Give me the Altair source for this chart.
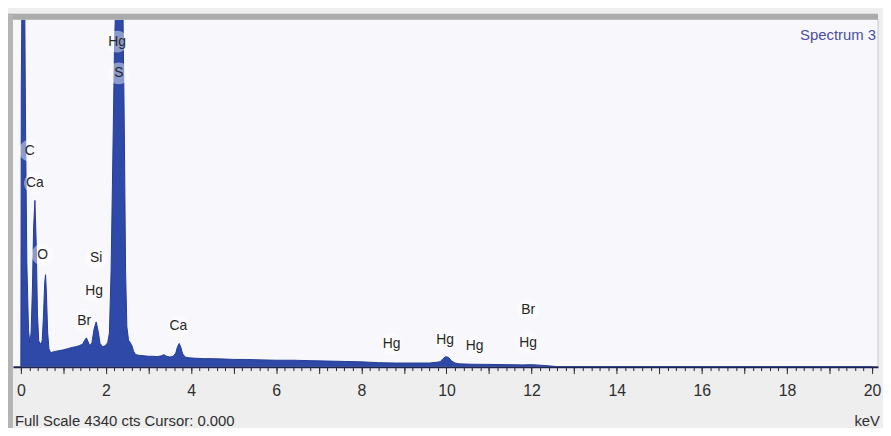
import altair as alt
import pandas as pd

# ---- spectrum (keV vs counts) ----
energy = [0.00, 0.01, 0.03, 0.05, 0.07, 0.09, 0.11, 0.14, 0.18, 0.21,
          0.24, 0.27, 0.30, 0.33, 0.36, 0.39, 0.42, 0.46, 0.50, 0.53,
          0.56, 0.58, 0.60, 0.63, 0.66, 0.70, 0.80, 0.90, 1.00, 1.10,
          1.20, 1.30, 1.38, 1.45, 1.50, 1.54, 1.58, 1.62, 1.67, 1.72,
          1.77, 1.82, 1.86, 1.92, 1.98, 2.04, 2.08, 2.12, 2.16, 2.20,
          2.25, 2.30, 2.35, 2.40, 2.43, 2.46, 2.49, 2.53, 2.57, 2.61,
          2.65, 2.70, 2.80, 2.90, 3.00, 3.10, 3.20, 3.30, 3.36, 3.42,
          3.50, 3.58, 3.64, 3.68, 3.72, 3.76, 3.80, 3.86, 3.95, 4.10,
          4.30, 4.50, 4.80, 5.00, 5.30, 5.60, 6.00, 6.40, 6.80, 7.20,
          7.60, 8.00, 8.40, 8.80, 9.20, 9.60, 9.85, 9.92, 9.98, 10.05,
          10.12, 10.20, 10.30, 10.60, 11.00, 11.40, 11.80, 12.00, 12.20, 12.40,
          12.60, 20.00]
counts = [0, 3500, 5000, 5000, 5000, 4600, 3000, 1300, 450, 300,
          420, 950, 1750, 2080, 1550, 650, 320, 280, 320, 620,
          1050, 1150, 920, 420, 220, 175, 190, 200, 210, 225,
          240, 250, 265, 280, 330, 360, 310, 260, 300, 470,
          560, 430, 290, 250, 260, 300, 420, 1200, 2600, 4000,
          5000, 5000, 5000, 4400, 3000, 1200, 500, 330, 300, 260,
          190, 150, 140, 135, 130, 130, 125, 135, 150, 130,
          120, 130, 170, 250, 290, 240, 160, 120, 110, 105,
          100, 100, 95, 90, 90, 85, 80, 80, 75, 70,
          65, 60, 50, 45, 45, 45, 60, 100, 125, 115,
          70, 45, 35, 30, 28, 25, 22, 25, 18, 10,
          0, 0]

# ---- element labels ----
label_text = ["Hg", "S", "C", "Ca", "O", "Si", "Hg", "Br", "Ca",
              "Hg", "Hg", "Hg", "Br", "Hg"]
label_x = [2.26, 2.30, 0.21, 0.33, 0.51, 1.77, 1.72, 1.49, 3.70,
           8.71, 9.97, 10.66, 11.92, 11.92]
label_y = [4067, 3670, 2703, 2294, 1401, 1364, 942, 570, 508,
           285, 335, 260, 707, 298]

minor_ticks = [round(i * 0.2, 1) for i in range(101)]
major_ticks = list(range(0, 21))

FULL_SCALE = 4340
W, H = 873, 350
FONT = "Liberation Sans, Arial, sans-serif"

spec = pd.DataFrame({"energy": energy, "counts": counts})
labels = pd.DataFrame({"lx": label_x, "ly": label_y, "t": label_text})

xscale = alt.Scale(domain=[-0.186, 20.14], nice=False, zero=False)
yscale = alt.Scale(domain=[0, FULL_SCALE], nice=False, zero=True)

area = alt.Chart(spec).mark_area(
    color="#2f49a8", opacity=1, fillOpacity=1,
    line={"color": "#243b95", "strokeWidth": 1}, clip=True,
    interpolate="linear"
).encode(
    x=alt.X("energy:Q", scale=xscale,
            axis=alt.Axis(values=minor_ticks, labels=False, tickSize=4,
                          tickColor="#2a2a2a", tickWidth=1, domainColor="#1c2450",
                          domainWidth=2, grid=False, title=None, orient="bottom")),
    y=alt.Y("counts:Q", scale=yscale, axis=None),
)

halo = alt.Chart(labels).mark_circle(size=480, color="#ffffff", opacity=0.45).encode(
    x=alt.X("lx:Q", scale=xscale, axis=None),
    y=alt.Y("ly:Q", scale=yscale, axis=None),
)

text = alt.Chart(labels).mark_text(
    font=FONT, fontSize=14, color="#262626"
).encode(
    x=alt.X("lx:Q", scale=xscale,
            axis=alt.Axis(values=major_ticks, tickSize=7, tickColor="#2a2a2a",
                          labelExpr="datum.value % 2 == 0 ? datum.label : ''",
                          labelFont=FONT, labelFontSize=16, labelColor="#2e2e2e",
                          labelPadding=9, domain=False, grid=False, title=None,
                          orient="bottom")),
    y=alt.Y("ly:Q", scale=yscale, axis=None),
    text="t:N",
)

deco = pd.DataFrame({"d": [0]})
top_band = alt.Chart(deco).mark_rule(color="#ababab", strokeWidth=6).encode(
    x=alt.value(-5), x2=alt.value(W), y=alt.value(-3))
left_band = alt.Chart(deco).mark_rule(color="#b4b4b4", strokeWidth=5).encode(
    x=alt.value(-2.5), y=alt.value(-6), y2=alt.value(412))
right_line = alt.Chart(deco).mark_rule(color="#c8c8c8", strokeWidth=1).encode(
    x=alt.value(W), y=alt.value(0), y2=alt.value(H))

spectrum_title = alt.Chart(deco).mark_text(
    text="Spectrum 3", font=FONT, fontSize=15, color="#4a4e9e", align="right",
    baseline="middle").encode(x=alt.value(W - 2), y=alt.value(15))
footer = alt.Chart(deco).mark_text(
    text="Full Scale 4340 cts Cursor: 0.000", font=FONT, fontSize=15,
    color="#2e2e2e", align="left", baseline="alphabetic").encode(
    x=alt.value(2), y=alt.value(410))
unit = alt.Chart(deco).mark_text(
    text="keV", font=FONT, fontSize=15, color="#2e2e2e", align="right",
    baseline="alphabetic").encode(x=alt.value(W + 2), y=alt.value(410))

chart = alt.layer(
    area, halo, text, top_band, left_band, right_line, spectrum_title, footer, unit
).resolve_axis(x="independent").properties(
    width=W, height=H,
    autosize=alt.AutoSizeParams(type="none"),
    padding={"left": 5, "top": 10, "right": 5, "bottom": 60},
    background="#eeeeee",
).configure_view(fill="#f8f8fc", stroke=None)

chart.save("out.html", embed_options={"renderer": "svg", "actions": False})
